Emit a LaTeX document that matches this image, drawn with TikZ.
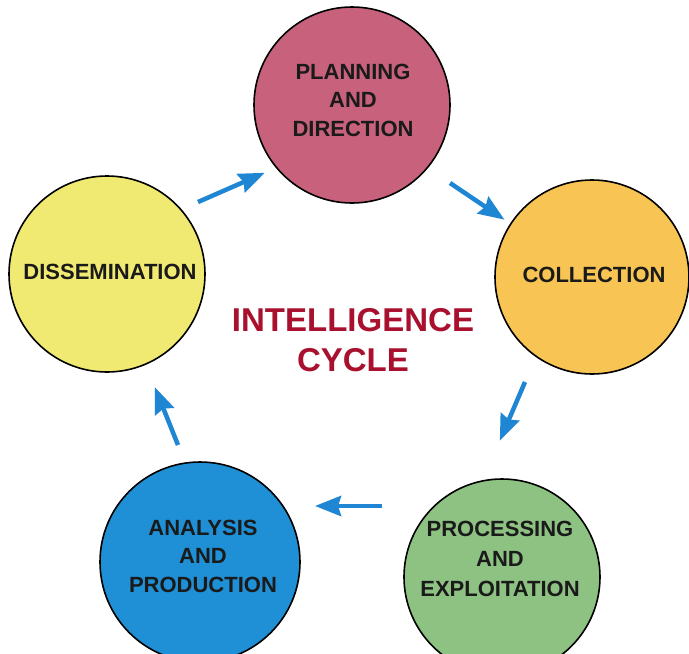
\documentclass[tikz,border=0pt]{standalone}
\usepackage{fontspec}
\setmainfont{Liberation Sans}
\usetikzlibrary{arrows.meta}
\definecolor{planc}{HTML}{C8627C}
\definecolor{collc}{HTML}{F8C453}
\definecolor{procc}{HTML}{8EC283}
\definecolor{analc}{HTML}{1F8FD6}
\definecolor{dissc}{HTML}{F0EA72}
\definecolor{arrc}{HTML}{1F86D3}
\definecolor{titlec}{HTML}{A8102E}
\definecolor{txtc}{HTML}{1A1A1A}
\tikzset{
  phase/.style={circle, draw=black, line width=1.6pt, minimum size=196pt, inner sep=0pt},
  phasetxt/.style={font=\fontsize{22}{28.5}\selectfont\bfseries, text=txtc, align=center, inner sep=0pt},
  flow/.style={draw=arrc, line width=4.5pt, -{Stealth[length=26pt,width=20pt,inset=3pt]}, shorten >=-3pt}
}
\begin{document}
\begin{tikzpicture}[x=1pt,y=-1pt]
\clip (0,0) rectangle (689,654);
\fill[white] (0,0) rectangle (689,654);
\node[phase, fill=planc] (plan) at (352,105) {};
\node[phase, fill=collc, minimum size=194pt] (coll) at (592,277) {};
\node[phase, fill=procc] (proc) at (502,577) {};
\node[phase, fill=analc, minimum size=200pt] (anal) at (200,562) {};
\node[phase, fill=dissc] (diss) at (107,274) {};
\node[phasetxt] (plant) at (353,100) {PLANNING\\AND\\DIRECTION};
\node[phasetxt] (collt) at (594,275) {COLLECTION};
\node[phasetxt, font=\fontsize{22}{30}\selectfont\bfseries] (proct) at (500,559) {PROCESSING\\AND\\EXPLOITATION};
\node[phasetxt] (analt) at (203,556) {ANALYSIS\\AND\\PRODUCTION};
\node[phasetxt] (disst) at (110,272) {DISSEMINATION};
\node[font=\fontsize{33}{40}\selectfont\bfseries, text=titlec, align=center, inner sep=0pt] (title) at (353,340) {INTELLIGENCE\\CYCLE};
\coordinate (a1s) at (198,202); \coordinate (a1e) at (262,174);
\coordinate (a2s) at (450,183); \coordinate (a2e) at (502,218);
\coordinate (a3s) at (525,382); \coordinate (a3e) at (501,438);
\coordinate (a4s) at (382,506); \coordinate (a4e) at (318,506);
\coordinate (a5s) at (178,445); \coordinate (a5e) at (156,390);
\draw[flow] (a1s) -- (a1e);
\draw[flow] (a2s) -- (a2e);
\draw[flow] (a3s) -- (a3e);
\draw[flow] (a4s) -- (a4e);
\draw[flow] (a5s) -- (a5e);
\end{tikzpicture}
\end{document}
